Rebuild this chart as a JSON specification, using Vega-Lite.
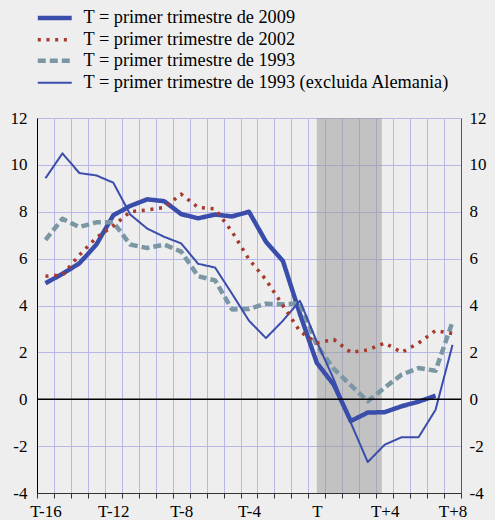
{
  "$schema": "https://vega.github.io/schema/vega-lite/v6.json",
  "width": 424,
  "height": 375,
  "autosize": "none",
  "padding": {"left": 37, "top": 118, "right": 34, "bottom": 27},
  "background": "#eeeeee",
  "config": {
    "view": {"stroke": null},
    "font": "Liberation Serif",
    "axis": {"labelFont": "Liberation Serif", "labelFontSize": 17, "labelColor": "#000000", "title": null},
    "legend": {"labelFont": "Liberation Serif", "labelFontSize": 18.3}
  },
  "datasets": {
    "series": [
      {"t": -16, "v": 4.95, "s": "T = primer trimestre de 2009"},
      {"t": -15, "v": 5.35, "s": "T = primer trimestre de 2009"},
      {"t": -14, "v": 5.8, "s": "T = primer trimestre de 2009"},
      {"t": -13, "v": 6.6, "s": "T = primer trimestre de 2009"},
      {"t": -12, "v": 7.85, "s": "T = primer trimestre de 2009"},
      {"t": -11, "v": 8.25, "s": "T = primer trimestre de 2009"},
      {"t": -10, "v": 8.53, "s": "T = primer trimestre de 2009"},
      {"t": -9, "v": 8.45, "s": "T = primer trimestre de 2009"},
      {"t": -8, "v": 7.9, "s": "T = primer trimestre de 2009"},
      {"t": -7, "v": 7.72, "s": "T = primer trimestre de 2009"},
      {"t": -6, "v": 7.88, "s": "T = primer trimestre de 2009"},
      {"t": -5, "v": 7.8, "s": "T = primer trimestre de 2009"},
      {"t": -4, "v": 8.0, "s": "T = primer trimestre de 2009"},
      {"t": -3, "v": 6.72, "s": "T = primer trimestre de 2009"},
      {"t": -2, "v": 5.9, "s": "T = primer trimestre de 2009"},
      {"t": -1, "v": 3.65, "s": "T = primer trimestre de 2009"},
      {"t": 0, "v": 1.55, "s": "T = primer trimestre de 2009"},
      {"t": 1, "v": 0.62, "s": "T = primer trimestre de 2009"},
      {"t": 2, "v": -0.93, "s": "T = primer trimestre de 2009"},
      {"t": 3, "v": -0.57, "s": "T = primer trimestre de 2009"},
      {"t": 4, "v": -0.55, "s": "T = primer trimestre de 2009"},
      {"t": 5, "v": -0.3, "s": "T = primer trimestre de 2009"},
      {"t": 6, "v": -0.1, "s": "T = primer trimestre de 2009"},
      {"t": 7, "v": 0.15, "s": "T = primer trimestre de 2009"},

      {"t": -16, "v": 5.25, "s": "T = primer trimestre de 2002"},
      {"t": -15, "v": 5.3, "s": "T = primer trimestre de 2002"},
      {"t": -14, "v": 6.15, "s": "T = primer trimestre de 2002"},
      {"t": -13, "v": 6.9, "s": "T = primer trimestre de 2002"},
      {"t": -12, "v": 7.4, "s": "T = primer trimestre de 2002"},
      {"t": -11, "v": 8.0, "s": "T = primer trimestre de 2002"},
      {"t": -10, "v": 8.08, "s": "T = primer trimestre de 2002"},
      {"t": -9, "v": 8.18, "s": "T = primer trimestre de 2002"},
      {"t": -8, "v": 8.75, "s": "T = primer trimestre de 2002"},
      {"t": -7, "v": 8.18, "s": "T = primer trimestre de 2002"},
      {"t": -6, "v": 8.12, "s": "T = primer trimestre de 2002"},
      {"t": -5, "v": 7.15, "s": "T = primer trimestre de 2002"},
      {"t": -4, "v": 5.97, "s": "T = primer trimestre de 2002"},
      {"t": -3, "v": 5.1, "s": "T = primer trimestre de 2002"},
      {"t": -2, "v": 4.0, "s": "T = primer trimestre de 2002"},
      {"t": -1, "v": 2.9, "s": "T = primer trimestre de 2002"},
      {"t": 0, "v": 2.4, "s": "T = primer trimestre de 2002"},
      {"t": 1, "v": 2.55, "s": "T = primer trimestre de 2002"},
      {"t": 2, "v": 2.0, "s": "T = primer trimestre de 2002"},
      {"t": 3, "v": 2.1, "s": "T = primer trimestre de 2002"},
      {"t": 4, "v": 2.4, "s": "T = primer trimestre de 2002"},
      {"t": 5, "v": 2.0, "s": "T = primer trimestre de 2002"},
      {"t": 6, "v": 2.4, "s": "T = primer trimestre de 2002"},
      {"t": 7, "v": 2.93, "s": "T = primer trimestre de 2002"},
      {"t": 8, "v": 2.8, "s": "T = primer trimestre de 2002"},

      {"t": -16, "v": 6.8, "s": "T = primer trimestre de 1993"},
      {"t": -15, "v": 7.7, "s": "T = primer trimestre de 1993"},
      {"t": -14, "v": 7.35, "s": "T = primer trimestre de 1993"},
      {"t": -13, "v": 7.55, "s": "T = primer trimestre de 1993"},
      {"t": -12, "v": 7.55, "s": "T = primer trimestre de 1993"},
      {"t": -11, "v": 6.6, "s": "T = primer trimestre de 1993"},
      {"t": -10, "v": 6.45, "s": "T = primer trimestre de 1993"},
      {"t": -9, "v": 6.6, "s": "T = primer trimestre de 1993"},
      {"t": -8, "v": 6.3, "s": "T = primer trimestre de 1993"},
      {"t": -7, "v": 5.25, "s": "T = primer trimestre de 1993"},
      {"t": -6, "v": 5.07, "s": "T = primer trimestre de 1993"},
      {"t": -5, "v": 3.83, "s": "T = primer trimestre de 1993"},
      {"t": -4, "v": 3.85, "s": "T = primer trimestre de 1993"},
      {"t": -3, "v": 4.08, "s": "T = primer trimestre de 1993"},
      {"t": -2, "v": 4.05, "s": "T = primer trimestre de 1993"},
      {"t": -1, "v": 4.1, "s": "T = primer trimestre de 1993"},
      {"t": 0, "v": 2.3, "s": "T = primer trimestre de 1993"},
      {"t": 1, "v": 1.3, "s": "T = primer trimestre de 1993"},
      {"t": 2, "v": 0.6, "s": "T = primer trimestre de 1993"},
      {"t": 3, "v": -0.08, "s": "T = primer trimestre de 1993"},
      {"t": 4, "v": 0.5, "s": "T = primer trimestre de 1993"},
      {"t": 5, "v": 1.05, "s": "T = primer trimestre de 1993"},
      {"t": 6, "v": 1.33, "s": "T = primer trimestre de 1993"},
      {"t": 7, "v": 1.22, "s": "T = primer trimestre de 1993"},
      {"t": 8, "v": 3.3, "s": "T = primer trimestre de 1993"},

      {"t": -16, "v": 9.43, "s": "T = primer trimestre de 1993 (excluida Alemania)"},
      {"t": -15, "v": 10.49, "s": "T = primer trimestre de 1993 (excluida Alemania)"},
      {"t": -14, "v": 9.65, "s": "T = primer trimestre de 1993 (excluida Alemania)"},
      {"t": -13, "v": 9.55, "s": "T = primer trimestre de 1993 (excluida Alemania)"},
      {"t": -12, "v": 9.24, "s": "T = primer trimestre de 1993 (excluida Alemania)"},
      {"t": -11, "v": 7.88, "s": "T = primer trimestre de 1993 (excluida Alemania)"},
      {"t": -10, "v": 7.28, "s": "T = primer trimestre de 1993 (excluida Alemania)"},
      {"t": -9, "v": 6.93, "s": "T = primer trimestre de 1993 (excluida Alemania)"},
      {"t": -8, "v": 6.65, "s": "T = primer trimestre de 1993 (excluida Alemania)"},
      {"t": -7, "v": 5.78, "s": "T = primer trimestre de 1993 (excluida Alemania)"},
      {"t": -6, "v": 5.62, "s": "T = primer trimestre de 1993 (excluida Alemania)"},
      {"t": -5, "v": 4.5, "s": "T = primer trimestre de 1993 (excluida Alemania)"},
      {"t": -4, "v": 3.35, "s": "T = primer trimestre de 1993 (excluida Alemania)"},
      {"t": -3, "v": 2.61, "s": "T = primer trimestre de 1993 (excluida Alemania)"},
      {"t": -2, "v": 3.35, "s": "T = primer trimestre de 1993 (excluida Alemania)"},
      {"t": -1, "v": 4.2, "s": "T = primer trimestre de 1993 (excluida Alemania)"},
      {"t": 0, "v": 2.45, "s": "T = primer trimestre de 1993 (excluida Alemania)"},
      {"t": 1, "v": 0.85, "s": "T = primer trimestre de 1993 (excluida Alemania)"},
      {"t": 2, "v": -1.0, "s": "T = primer trimestre de 1993 (excluida Alemania)"},
      {"t": 3, "v": -2.68, "s": "T = primer trimestre de 1993 (excluida Alemania)"},
      {"t": 4, "v": -1.94, "s": "T = primer trimestre de 1993 (excluida Alemania)"},
      {"t": 5, "v": -1.62, "s": "T = primer trimestre de 1993 (excluida Alemania)"},
      {"t": 6, "v": -1.62, "s": "T = primer trimestre de 1993 (excluida Alemania)"},
      {"t": 7, "v": -0.45, "s": "T = primer trimestre de 1993 (excluida Alemania)"},
      {"t": 8, "v": 2.32, "s": "T = primer trimestre de 1993 (excluida Alemania)"}
    ],
    "shade": [{"start": 0, "end": 3.83}],
    "zero": [{"y": 0}]
  },
  "layer": [
    {
      "data": {"name": "shade"},
      "mark": {"type": "rect", "color": "#959595", "opacity": 0.5},
      "encoding": {
        "x": {
          "field": "start", "type": "quantitative",
          "scale": {"domain": [-16.5, 8.5], "nice": false, "zero": false},
          "axis": {
            "values": [-16.5,-16,-15.5,-15,-14.5,-14,-13.5,-13,-12.5,-12,-11.5,-11,-10.5,-10,-9.5,-9,-8.5,-8,-7.5,-7,-6.5,-6,-5.5,-5,-4.5,-4,-3.5,-3,-2.5,-2,-1.5,-1,-0.5,0,0.5,1,1.5,2,2.5,3,3.5,4,4.5,5,5.5,6,6.5,7,7.5,8,8.5],
            "labelExpr": "(datum.value % 4 === 0) ? (datum.value === 0 ? 'T' : (datum.value > 0 ? 'T+' + datum.value : 'T' + datum.value)) : ''",
            "labelOverlap": false, "labelFlush": false, "labelFont": "Liberation Serif", "labelFontSize": 17, "labelPadding": 5,
            "tickSize": 5, "tickColor": "#333333", "domainColor": "#333333", "gridColor": "#b8b8e6",
            "gridOpacity": {"condition": {"test": "datum.value % 1 !== 0", "value": 1}, "value": 0},
            "tickOpacity": {"condition": {"test": "datum.value % 1 !== 0", "value": 1}, "value": 0},
            "title": null
          }
        },
        "x2": {"field": "end"}
      }
    },
    {
      "data": {"name": "series"},
      "transform": [{"filter": "datum.s !== 'T = primer trimestre de 2002'"}],
      "mark": {"type": "line", "strokeCap": "butt", "strokeJoin": "round"},
      "encoding": {
        "x": {
          "field": "t", "type": "quantitative",
          "scale": {"domain": [-16.5, 8.5], "nice": false, "zero": false},
          "axis": {
            "values": [-16.5,-16,-15.5,-15,-14.5,-14,-13.5,-13,-12.5,-12,-11.5,-11,-10.5,-10,-9.5,-9,-8.5,-8,-7.5,-7,-6.5,-6,-5.5,-5,-4.5,-4,-3.5,-3,-2.5,-2,-1.5,-1,-0.5,0,0.5,1,1.5,2,2.5,3,3.5,4,4.5,5,5.5,6,6.5,7,7.5,8,8.5],
            "labelExpr": "(datum.value % 4 === 0) ? (datum.value === 0 ? 'T' : (datum.value > 0 ? 'T+' + datum.value : 'T' + datum.value)) : ''",
            "labelOverlap": false, "labelFlush": false, "labelFont": "Liberation Serif", "labelFontSize": 17, "labelPadding": 5,
            "tickSize": 5, "tickColor": "#333333", "domainColor": "#333333", "gridColor": "#b8b8e6",
            "gridOpacity": {"condition": {"test": "datum.value % 1 !== 0", "value": 1}, "value": 0},
            "tickOpacity": {"condition": {"test": "datum.value % 1 !== 0", "value": 1}, "value": 0},
            "title": null
          }
        },
        "y": {
          "field": "v", "type": "quantitative",
          "scale": {"domain": [-4, 12], "nice": false, "zero": false},
          "axis": {"values": [-4,-2,0,2,4,6,8,10,12], "labelExpr": "replace(datum.label, '\u2212', '-')", "ticks": false, "labelPadding": 10, "labelFont": "Liberation Serif", "labelFontSize": 17, "domainColor": "#000000", "gridColor": "#b8b8e6", "title": null}
        },
        "color": {
          "field": "s", "type": "nominal",
          "scale": {
            "domain": ["T = primer trimestre de 2009", "T = primer trimestre de 2002", "T = primer trimestre de 1993", "T = primer trimestre de 1993 (excluida Alemania)"],
            "range": ["#3a4dab", "#a63a2c", "#7b97a4", "#3a4dab"]
          },
          "legend": {
            "orient": "none", "legendX": 8.6, "legendY": -109.2, "title": null,
            "symbolType": "M-5,0H5", "symbolSize": 46, "labelFontSize": 18.3, "labelFont": "Liberation Serif",
            "labelColor": "#000000", "labelOffset": 19.6, "labelLimit": 500, "padding": 0, "rowPadding": 1.9
          }
        },
        "strokeDash": {
          "field": "s", "type": "nominal",
          "scale": {
            "domain": ["T = primer trimestre de 2009", "T = primer trimestre de 2002", "T = primer trimestre de 1993", "T = primer trimestre de 1993 (excluida Alemania)"],
            "range": [[1, 0], [3, 5.7], [8, 4], [1, 0]]
          }
        },
        "strokeWidth": {
          "field": "s", "type": "nominal",
          "scale": {
            "type": "ordinal",
            "domain": ["T = primer trimestre de 2009", "T = primer trimestre de 2002", "T = primer trimestre de 1993", "T = primer trimestre de 1993 (excluida Alemania)"],
            "range": [4.5, 3.5, 4.5, 2]
          }
        }
      }
    },
    {
      "data": {"name": "series"},
      "transform": [{"filter": "datum.s === 'T = primer trimestre de 2002'"}],
      "mark": {"type": "line", "strokeCap": "butt", "strokeJoin": "round"},
      "encoding": {
        "x": {
          "field": "t", "type": "quantitative",
          "scale": {"domain": [-16.5, 8.5], "nice": false, "zero": false},
          "axis": {
            "values": [-16.5,-16,-15.5,-15,-14.5,-14,-13.5,-13,-12.5,-12,-11.5,-11,-10.5,-10,-9.5,-9,-8.5,-8,-7.5,-7,-6.5,-6,-5.5,-5,-4.5,-4,-3.5,-3,-2.5,-2,-1.5,-1,-0.5,0,0.5,1,1.5,2,2.5,3,3.5,4,4.5,5,5.5,6,6.5,7,7.5,8,8.5],
            "labelExpr": "(datum.value % 4 === 0) ? (datum.value === 0 ? 'T' : (datum.value > 0 ? 'T+' + datum.value : 'T' + datum.value)) : ''",
            "labelOverlap": false, "labelFlush": false, "labelFont": "Liberation Serif", "labelFontSize": 17, "labelPadding": 5,
            "tickSize": 5, "tickColor": "#333333", "domainColor": "#333333", "gridColor": "#b8b8e6",
            "gridOpacity": {"condition": {"test": "datum.value % 1 !== 0", "value": 1}, "value": 0},
            "tickOpacity": {"condition": {"test": "datum.value % 1 !== 0", "value": 1}, "value": 0},
            "title": null
          }
        },
        "y": {"field": "v", "type": "quantitative", "axis": null},
        "color": {
          "field": "s", "type": "nominal",
          "scale": {
            "domain": ["T = primer trimestre de 2009", "T = primer trimestre de 2002", "T = primer trimestre de 1993", "T = primer trimestre de 1993 (excluida Alemania)"],
            "range": ["#3a4dab", "#a63a2c", "#7b97a4", "#3a4dab"]
          }
        },
        "strokeDash": {
          "field": "s", "type": "nominal",
          "scale": {
            "domain": ["T = primer trimestre de 2009", "T = primer trimestre de 2002", "T = primer trimestre de 1993", "T = primer trimestre de 1993 (excluida Alemania)"],
            "range": [[1, 0], [3, 5.7], [8, 4], [1, 0]]
          }
        },
        "strokeWidth": {
          "field": "s", "type": "nominal",
          "scale": {
            "type": "ordinal",
            "domain": ["T = primer trimestre de 2009", "T = primer trimestre de 2002", "T = primer trimestre de 1993", "T = primer trimestre de 1993 (excluida Alemania)"],
            "range": [4.5, 3.5, 4.5, 2]
          }
        }
      }
    },
    {
      "data": {"name": "zero"},
      "mark": {"type": "rule", "color": "#000000", "strokeWidth": 1.5},
      "encoding": {
        "y": {
          "field": "y", "type": "quantitative",
          "axis": {"orient": "right", "values": [-4,-2,0,2,4,6,8,10,12], "labelExpr": "replace(datum.label, '\u2212', '-')", "ticks": false, "grid": false, "labelPadding": 8, "labelAlign": "left", "labelFont": "Liberation Serif", "labelFontSize": 17, "domainColor": "#555555", "title": null}
        }
      }
    }
  ],
  "resolve": {"axis": {"y": "independent"}}
}
